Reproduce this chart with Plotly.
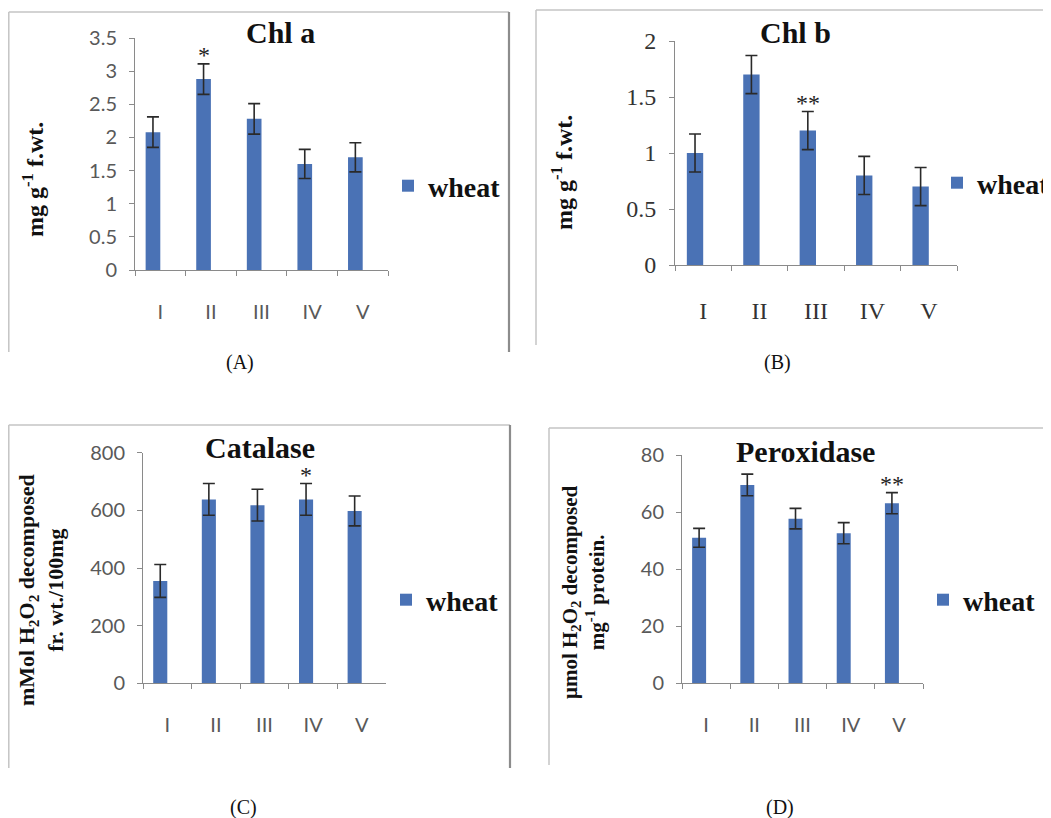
import plotly.graph_objects as go

# The page body has an 8px default margin, so the figure is sized to fit the
# 1051x818 window and reference pixel positions are shifted by 8px.
OFF = 8
W, H = 1051 - OFF, 818 - OFF

categories = ["I", "II", "III", "IV", "V"]

chla = [2.08, 2.88, 2.28, 1.60, 1.70]
chla_err = [0.23, 0.23, 0.23, 0.22, 0.22]
chla_sig = ["", "*", "", "", ""]

chlb = [1.00, 1.70, 1.20, 0.80, 0.70]
chlb_err = [0.17, 0.17, 0.17, 0.17, 0.17]
chlb_sig = ["", "", "**", "", ""]

catalase = [355, 638, 618, 638, 598]
catalase_err = [57, 55, 55, 55, 52]
catalase_sig = ["", "", "", "*", ""]

peroxidase = [51.0, 69.5, 57.7, 52.6, 63.1]
peroxidase_err = [3.3, 3.8, 3.6, 3.7, 3.7]
peroxidase_sig = ["", "", "", "", "**"]

series_name = "wheat"
BAR = "#4a72b5"
SERIF = "Liberation Serif"
SANS = "Lato"


def px(x):
    return (x - OFF) / W


def py(y):
    return 1 - (y - OFF) / H


panels = [
    dict(vals=chla, err=chla_err, sig=chla_sig, title="Chl a", rng=[0, 3.5], dtick=0.5,
         xd=[135, 388], yd=[270, 38], tickfont=dict(family=SANS, size=20, color="#595959"),
         ytitle="mg g<sup>-1</sup> f.wt.", ytx=33, yty=180, ytsize=24,
         tx=280, ty=32, leg=(388, 186), lab="(A)", labxy=(240, 362)),
    dict(vals=chlb, err=chlb_err, sig=chlb_sig, title="Chl b", rng=[0, 2], dtick=0.5,
         xd=[675, 957], yd=[265, 41], tickfont=dict(family=SERIF, size=24, color="#333333"),
         ytitle="mg g<sup>-1</sup> f.wt.", ytx=562, yty=173, ytsize=24,
         tx=795, ty=32, leg=(937, 183), lab="(B)", labxy=(777, 362)),
    dict(vals=catalase, err=catalase_err, sig=catalase_sig, title="Catalase", rng=[0, 800], dtick=200,
         xd=[143, 386], yd=[683.3, 452.7], tickfont=dict(family=SANS, size=20, color="#595959"),
         ytitle="mMol H<sub>2</sub>O<sub>2</sub> decomposed<br>fr. wt./100mg", ytx=41, yty=590, ytsize=22,
         tx=260, ty=447, leg=(386, 600), lab="(C)", labxy=(243, 807)),
    dict(vals=peroxidase, err=peroxidase_err, sig=peroxidase_sig, title="Peroxidase", rng=[0, 80], dtick=20,
         xd=[682, 923], yd=[683.3, 455], tickfont=dict(family=SANS, size=20, color="#595959"),
         ytitle="\u03bcmol H<sub>2</sub>O<sub>2</sub> decomposed<br>mg<sup>-1</sup> protein.", ytx=583, yty=592, ytsize=21,
         tx=805, ty=451, leg=(923, 600), lab="(D)", labxy=(780, 807)),
]

fig = go.Figure()
annotations = []
shapes = []
layout = {}


def ann(text, x, y, size, angle=0, color="#111111", family=SERIF):
    return dict(text=text, x=px(x), y=py(y), xref="paper", yref="paper", showarrow=False,
                xanchor="center", yanchor="middle", textangle=angle,
                font=dict(family=family, size=size, color=color))


for i, p in enumerate(panels):
    n = "" if i == 0 else str(i + 1)
    xa, ya = "x" + n, "y" + n
    legname = "legend" if i == 0 else "legend" + str(i + 1)
    fig.add_trace(go.Bar(
        x=categories, y=p["vals"], name=series_name,
        xaxis=xa, yaxis=ya, legend=legname,
        width=0.29, offset=-0.29,
        marker=dict(color=BAR, line=dict(width=0)),
        error_y=dict(type="data", array=p["err"], visible=True,
                     color="#2a2a2a", thickness=1.6, width=6),
        showlegend=True,
    ))
    layout["xaxis" + n] = dict(
        domain=[px(p["xd"][0]), px(p["xd"][1])], anchor=ya, automargin=False,
        type="category", showline=True, linecolor="#8a8a8a", linewidth=1,
        ticks="outside", tickson="boundaries", ticklen=5, tickcolor="#8a8a8a",
        tickfont=p["tickfont"], ticklabelstandoff=24, showgrid=False, zeroline=False,
        fixedrange=True,
    )
    layout["yaxis" + n] = dict(
        domain=[py(p["yd"][0]), py(p["yd"][1])], anchor=xa, automargin=False,
        range=p["rng"], dtick=p["dtick"], showline=True, linecolor="#8a8a8a", linewidth=1,
        ticks="outside", ticklen=5, tickcolor="#8a8a8a", tickfont=p["tickfont"],
        ticklabelstandoff=8, showgrid=False, zeroline=False, fixedrange=True,
    )
    layout[legname] = dict(
        x=px(p["leg"][0]), y=py(p["leg"][1]), xanchor="left", yanchor="middle",
        bgcolor="rgba(0,0,0,0)", font=dict(family=SERIF, size=28, color="#111111", weight="bold"),
        itemwidth=30,
    )
    annotations.append(ann("<b>%s</b>" % p["title"], p["tx"], p["ty"], 30))
    annotations.append(ann("<b>%s</b>" % p["ytitle"], p["ytx"], p["yty"], p["ytsize"], angle=-90))
    annotations.append(ann(p["lab"], p["labxy"][0], p["labxy"][1], 20))
    for k, s in enumerate(p["sig"]):
        if s:
            annotations.append(dict(text=s, x=k - 0.145, y=p["vals"][k] + p["err"][k],
                                    xref=xa, yref=ya, showarrow=False,
                                    xanchor="center", yanchor="bottom", yshift=-6,
                                    font=dict(family=SERIF, size=24, color="#222222")))

frame_col = "#c4c4c4"
frames = [
    (8.8, 12, 509, 12), (8.8, 12, 8.8, 352),
    (536, 10, 1051, 10), (536, 10, 536, 345),
    (8.8, 425, 510, 425), (8.8, 425, 8.8, 768),
    (549, 428, 1051, 428), (549, 428, 549, 765),
]
for (x0, y0, x1, y1) in frames:
    shapes.append(dict(type="line", xref="paper", yref="paper",
                       x0=px(x0), y0=py(y0), x1=px(x1), y1=py(y1),
                       line=dict(color=frame_col, width=1.5)))
for (x0, y0, x1, y1) in [(509, 12, 509, 352), (510, 425, 510, 768)]:
    shapes.append(dict(type="line", xref="paper", yref="paper",
                       x0=px(x0), y0=py(y0), x1=px(x1), y1=py(y1),
                       line=dict(color="#8c8c8c", width=2.2)))

fig.update_layout(
    width=W, height=H, margin=dict(l=0, r=0, t=0, b=0, autoexpand=False),
    paper_bgcolor="white", plot_bgcolor="white",
    annotations=annotations, shapes=shapes, bargap=0.5,
    **layout,
)

fig.write_html("out.html")
